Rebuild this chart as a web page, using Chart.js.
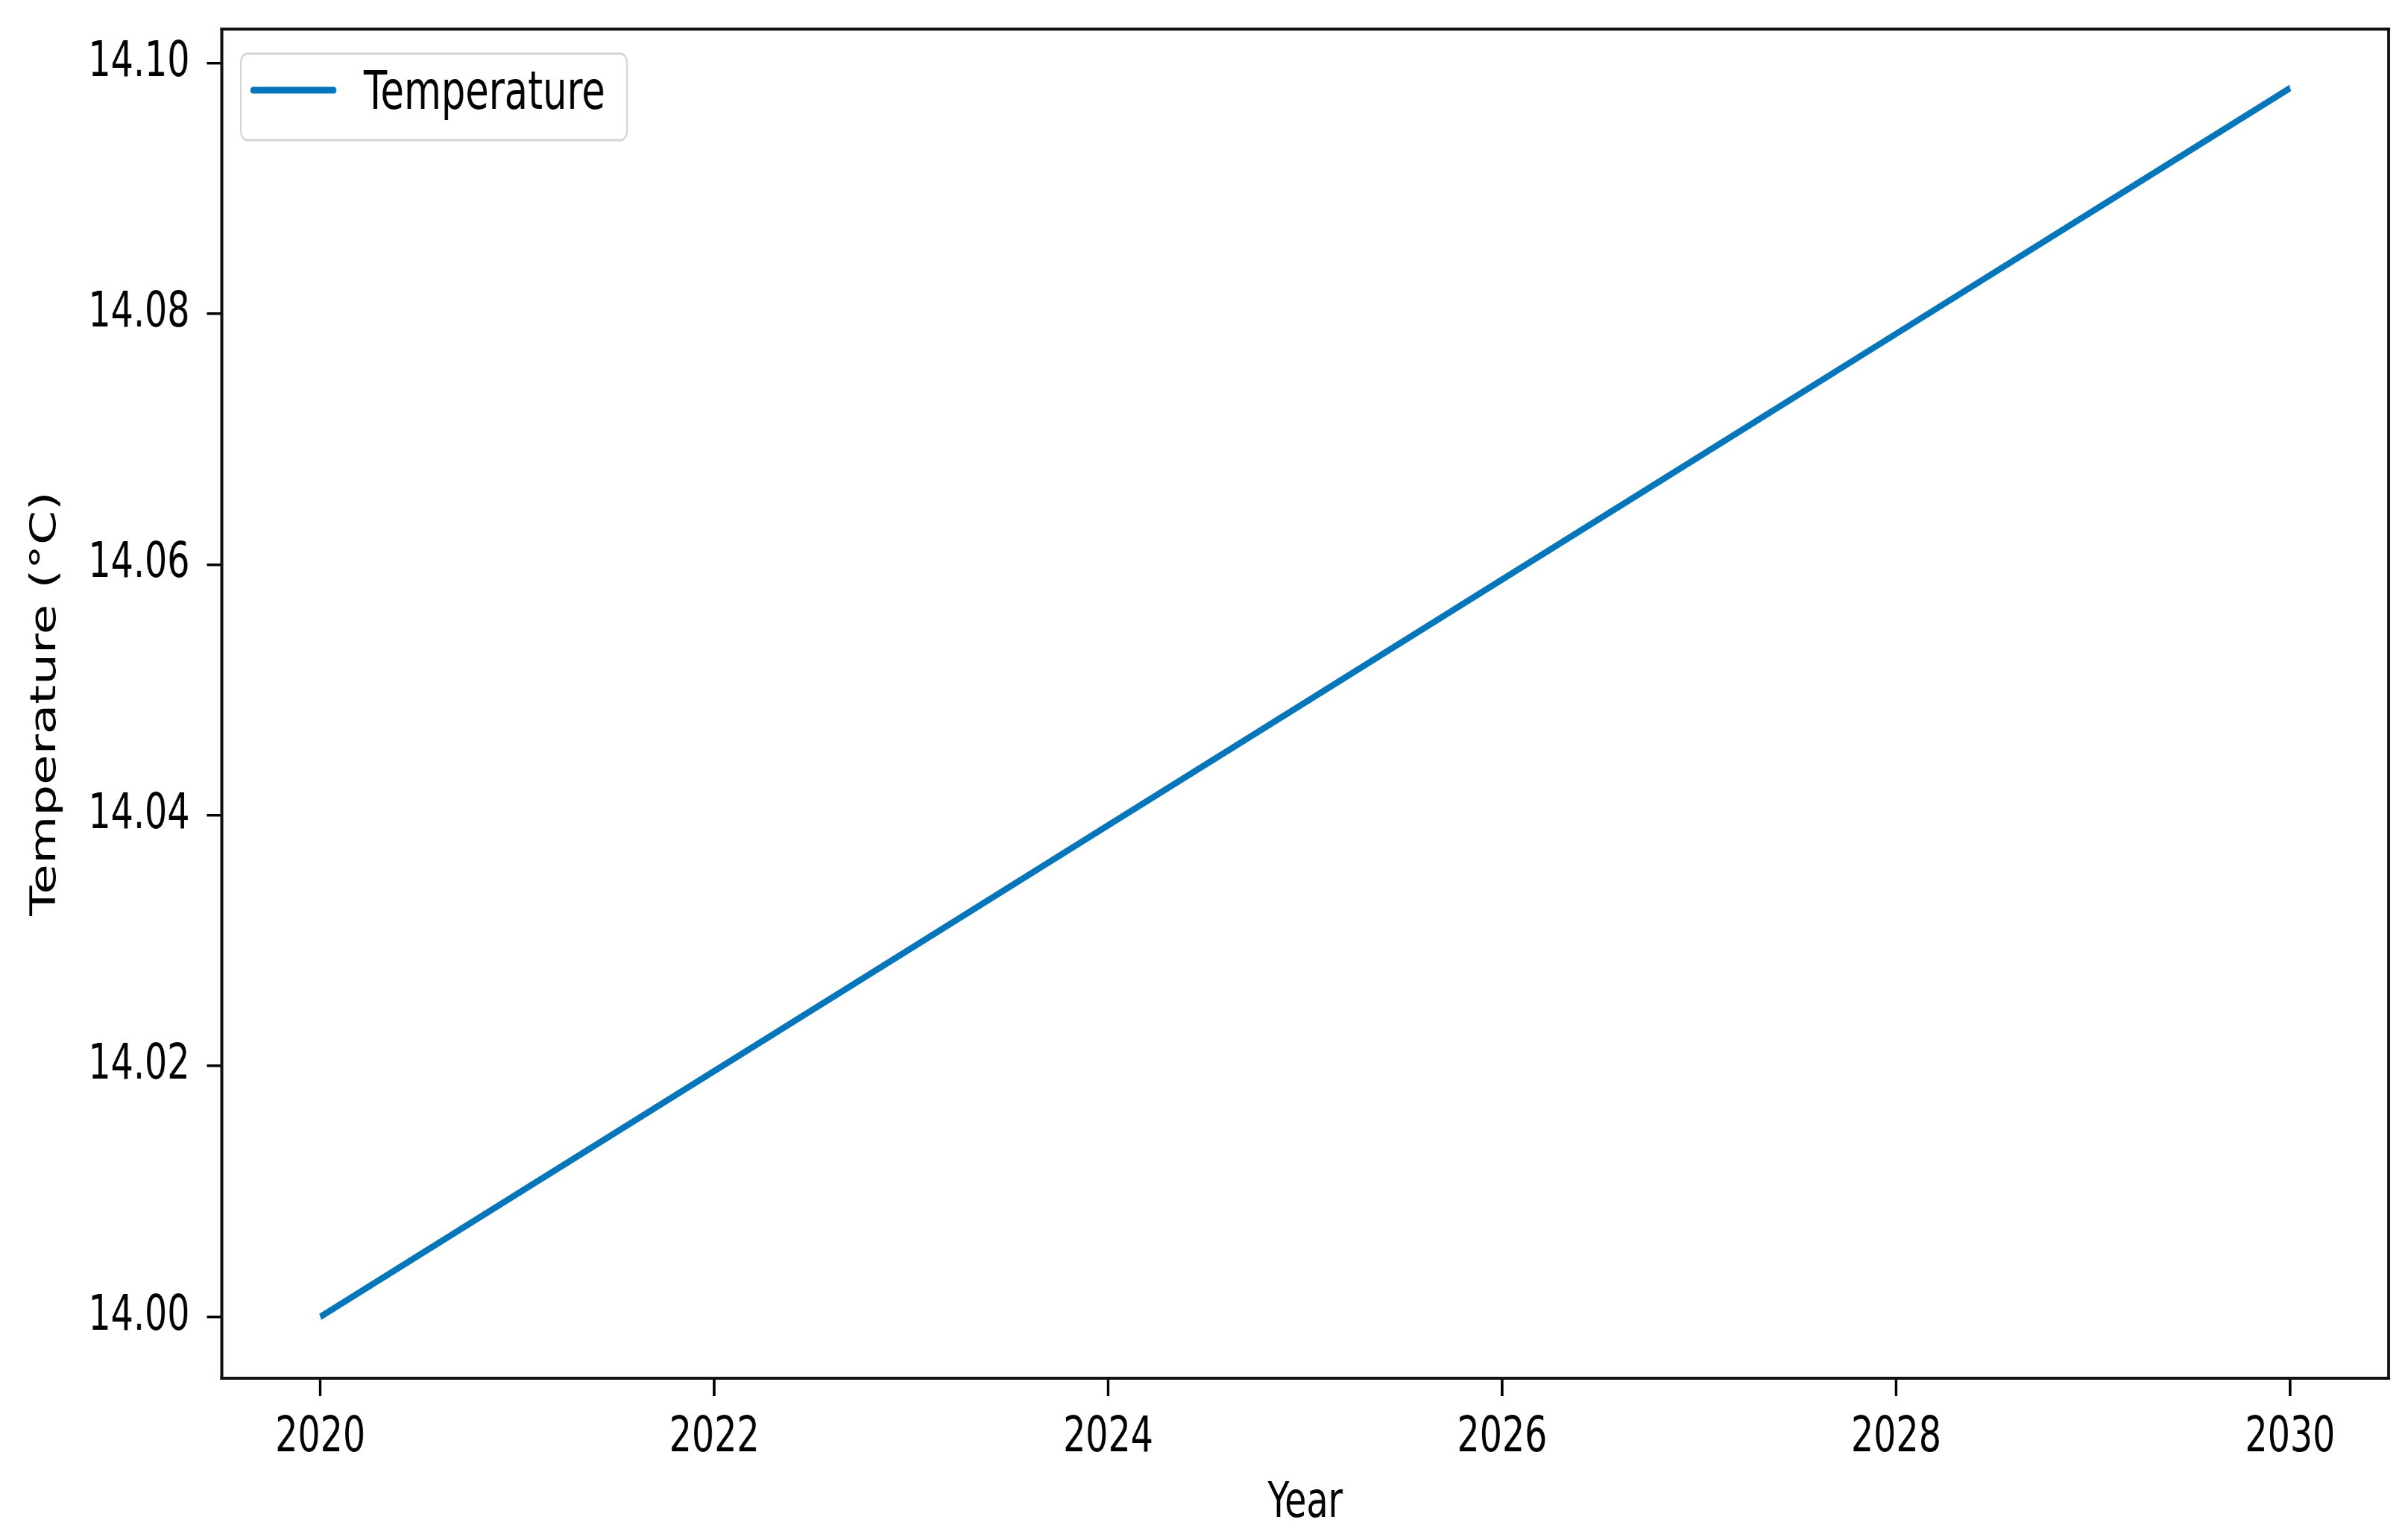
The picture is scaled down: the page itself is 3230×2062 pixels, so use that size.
<!DOCTYPE html>
<html>
<head>
<meta charset="utf-8">
<title>Temperature</title>
<script src="https://cdn.jsdelivr.net/npm/chart.js@4.4.1/dist/chart.umd.min.js"></script>
<style>
  html, body { margin: 0; padding: 0; background: #fff; overflow: hidden; }
  #wrap { transform-origin: 0 0; }
</style>
</head>
<body>
<div id="wrap"><canvas id="tempChart"></canvas></div>
<script>
// === DATA ===
const years = [2020, 2021, 2022, 2023, 2024, 2025, 2026, 2027, 2028, 2029, 2030];
const temperatures = [14.0000, 14.0098, 14.0196, 14.0294, 14.0392, 14.0490, 14.0588, 14.0686, 14.0784, 14.0882, 14.0980];
const xTicks = [2020, 2022, 2024, 2026, 2028, 2030];
const yTicks = [14.00, 14.02, 14.04, 14.06, 14.08, 14.10];
const seriesLabel = 'Temperature';

// the source figure is squeezed horizontally, so draw wide and scale the canvas down
const SX = 0.72;
const H = 2062;
const W = Math.round(3230 / SX);
const u = v => v / SX;   // page x -> canvas x

// plot area in page pixels
const area = { left: 297.5, right: 3204, top: 39, bottom: 1849 };

const wrap = document.getElementById('wrap');
wrap.style.width = W + 'px';
wrap.style.height = H + 'px';
wrap.style.transform = 'scaleX(' + SX + ')';

const canvas = document.getElementById('tempChart');
canvas.width = W;
canvas.height = H;

const FONT = 'DejaVu Sans';

// box around the plot, like matplotlib spines
const framePlugin = {
    id: 'frame',
    afterDraw(chart) {
        const { ctx, chartArea: a } = chart;
        const hw = u(2);
        ctx.save();
        ctx.fillStyle = '#111';
        ctx.fillRect(a.left - hw, a.top - 2, a.right - a.left + 2 * hw, 4);
        ctx.fillRect(a.left - hw, a.bottom - 2, a.right - a.left + 2 * hw, 4);
        ctx.fillRect(a.left - hw, a.top - 2, 2 * hw, a.bottom - a.top + 4);
        ctx.fillRect(a.right - hw, a.top - 2, 2 * hw, a.bottom - a.top + 4);
        ctx.restore();
    }
};

// framed legend in the upper left corner
const boxLegend = {
    id: 'boxLegend',
    afterDraw(chart) {
        const ctx = chart.ctx;
        const ds = chart.data.datasets[0];
        ctx.save();
        ctx.beginPath();
        ctx.roundRect(u(323), 72, u(841) - u(323), 116, 12);
        ctx.fillStyle = 'rgba(255,255,255,0.8)';
        ctx.fill();
        ctx.lineWidth = 3;
        ctx.strokeStyle = '#d4d4d4';
        ctx.stroke();

        ctx.beginPath();
        ctx.moveTo(u(339), 121);
        ctx.lineTo(u(448), 121);
        ctx.lineWidth = 9;
        ctx.lineCap = 'round';
        ctx.strokeStyle = ds.borderColor;
        ctx.stroke();

        ctx.font = '71px "' + FONT + '"';
        ctx.fillStyle = '#000';
        ctx.textBaseline = 'alphabetic';
        ctx.textAlign = 'left';
        ctx.fillText(ds.label, u(488), 146);
        ctx.restore();
    }
};

new Chart(canvas.getContext('2d'), {
    type: 'line',
    data: {
        datasets: [{
            label: seriesLabel,
            data: years.map((y, i) => ({ x: y, y: temperatures[i] })),
            borderColor: '#0676ba',
            borderWidth: 9,
            pointRadius: 0,
            tension: 0,
            fill: false
        }]
    },
    options: {
        responsive: false,
        animation: false,
        devicePixelRatio: 1,
        layout: {
            padding: { top: area.top, right: W - u(area.right), bottom: 0, left: 0 }
        },
        plugins: {
            legend: { display: false },
            tooltip: { enabled: false }
        },
        scales: {
            x: {
                type: 'linear',
                min: 2019.5,
                max: 2030.5,
                afterFit: scale => {
                    scale.height = H - area.bottom;
                    scale.paddingLeft = 0;
                    scale.paddingRight = 0;
                },
                afterBuildTicks: scale => { scale.ticks = xTicks.map(v => ({ value: v })); },
                border: { display: false },
                grid: {
                    drawOnChartArea: false,
                    drawTicks: true,
                    tickLength: 24,
                    lineWidth: u(3.5),
                    tickWidth: u(3.5),
                    tickColor: '#000'
                },
                ticks: {
                    autoSkip: false,
                    maxRotation: 0,
                    padding: 17,
                    color: '#000',
                    font: { family: FONT, size: 66 },
                    callback: v => String(v)
                },
                title: {
                    display: true,
                    text: 'Year',
                    color: '#000',
                    font: { family: FONT, size: 66 },
                    padding: { top: 0, bottom: 5 }
                }
            },
            y: {
                type: 'linear',
                min: 13.9951,
                max: 14.1027,
                afterFit: scale => {
                    scale.width = u(area.left);
                    scale.paddingTop = 0;
                    scale.paddingBottom = 0;
                },
                afterBuildTicks: scale => { scale.ticks = yTicks.map(v => ({ value: v })); },
                border: { display: false },
                grid: {
                    drawOnChartArea: false,
                    drawTicks: true,
                    tickLength: u(20),
                    lineWidth: 3.5,
                    tickWidth: 3.5,
                    tickColor: '#000'
                },
                ticks: {
                    padding: u(23),
                    color: '#000',
                    font: { family: FONT, size: 66 },
                    callback: v => Number(v).toFixed(2)
                },
                title: {
                    display: true,
                    text: 'Temperature (°C)',
                    color: '#000',
                    font: { family: FONT, size: 66 },
                    padding: { top: 46, bottom: 0 }
                }
            }
        }
    },
    plugins: [framePlugin, boxLegend]
});
</script>
</body>
</html>
